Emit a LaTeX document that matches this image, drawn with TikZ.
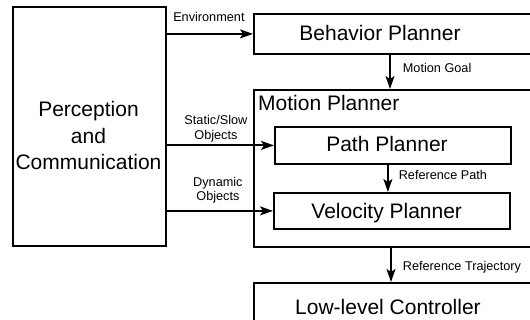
\documentclass[tikz,border=0pt]{standalone}
\usepackage{fontspec}
\setmainfont{Liberation Sans}
\usetikzlibrary{positioning,calc,arrows.meta}

\tikzset{blk/.style={
    draw,
    rectangle,
    line width=1.8pt,
    inner sep=0pt,
    anchor=north west,
  }}
\tikzset{bigtxt/.style={font=\fontsize{21}{26.6}\selectfont, inner sep=0pt, align=center}}
\tikzset{smalltxt/.style={font=\fontsize{12.7}{14.6}\selectfont, inner sep=0pt, align=center}}
\tikzset{flow/.style={line width=1.8pt, -{Stealth[length=13pt,width=9pt,inset=3pt]}}}

\begin{document}
\begin{tikzpicture}[x=1pt,y=-1pt]
        \useasboundingbox (0,0) rectangle (530,320);
        \clip (0,0) rectangle (530,320);

        \node (percep) [blk, minimum width=153pt, minimum height=239pt] at (12,6) {};
        \node (perceptxt) [bigtxt] at (88.5,135.8) {Perception\\and\\Communication};

        \node (behav) [blk, minimum width=300pt, minimum height=40pt] at (253,13) {};
        \node (behavtxt) [bigtxt, anchor=base] at (380,40.3) {Behavior Planner};

        \node (motion) [blk, minimum width=300pt, minimum height=157pt] at (253,89) {};
        \node (motiontxt) [bigtxt, anchor=base west] at (258,110.7) {Motion Planner};

        \node (path) [blk, minimum width=236pt, minimum height=37pt] at (274,126) {};
        \node (pathtxt) [bigtxt, anchor=base] at (387,151.7) {Path Planner};

        \node (velo) [blk, minimum width=236pt, minimum height=36pt] at (273,192) {};
        \node (velotxt) [bigtxt, anchor=base] at (386.7,218.3) {Velocity Planner};

        \node (low) [blk, minimum width=300pt, minimum height=60pt] at (253,282) {};
        \node (lowtxt) [bigtxt, anchor=base] at (388,315) {Low-level Controller};

        % inputs from perception
        \draw [flow] (percep.east |- behav.west) -- (behav.west)
        node [smalltxt,midway,above=11pt,xshift=-1pt] {Environment};

        \draw [flow] (percep.east |- path.west) -- (path.west)
        node [smalltxt,midway,above=2.3pt,xshift=-4.5pt] {Static/Slow\\Objects};

        \draw [flow] (percep.east |- velo.west) -- (velo.west)
        node [smalltxt,midway,above=6.6pt,xshift=-2pt] {Dynamic\\Objects};

        % vertical flow
        \draw [flow] ($(behav.south west)+(137,0)$) -- ($(motion.north west)+(137,0)$)
        node [smalltxt,midway,right=12pt,yshift=4pt] {Motion Goal};

        \draw [flow] ([xshift=-5pt]path.south) -- ([xshift=-5pt]path.south |- velo.north)
        node [smalltxt,midway,right=10pt,yshift=3pt] {Reference Path};

        \draw [flow] ($(motion.south west)+(138,0)$) -- ($(low.north west)+(138,0)$)
        node [smalltxt,midway,right=11pt,yshift=-2.7pt] {Reference Trajectory};
      \end{tikzpicture}
\end{document}
